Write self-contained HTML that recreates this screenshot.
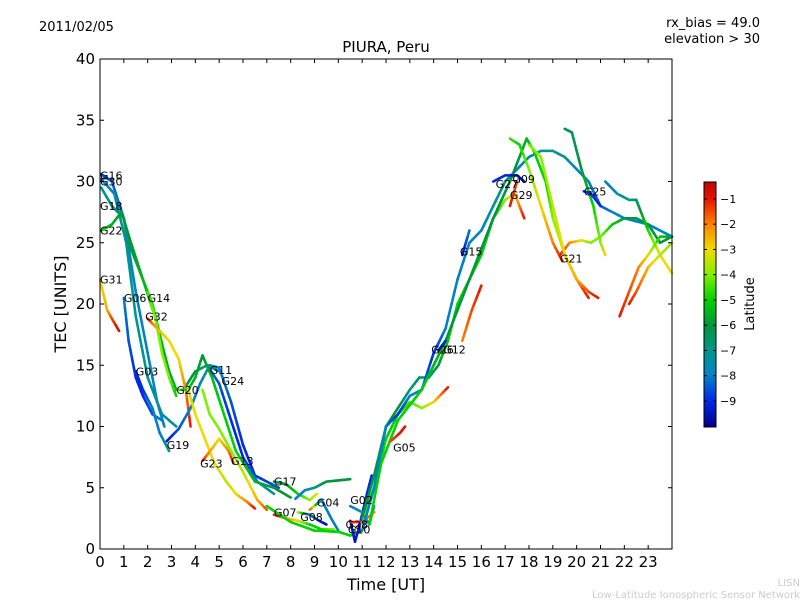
<!DOCTYPE html>
<html><head><meta charset="utf-8"><style>
body{margin:0;background:#fff;}
svg{display:block;font-family:"DejaVu Sans","Liberation Sans",sans-serif;}
</style></head><body>
<svg id="chart" width="800" height="600" viewBox="0 0 800 600">
<rect width="800" height="600" fill="#fff"/>
<text x="39" y="31" font-size="13">2011/02/05</text>
<text x="760" y="27" font-size="13" text-anchor="end">rx_bias = 49.0</text>
<text x="760" y="43" font-size="13" text-anchor="end">elevation &gt; 30</text>
<text x="386" y="52" font-size="15" text-anchor="middle">PIURA, Peru</text>
<g id="plot"></g>
<g id="marks"></g>
<g id="labels"></g>
<rect x="100" y="59" width="572" height="490" fill="none" stroke="#000" stroke-width="1"/>
<g id="axes"></g>
<text x="386" y="590" font-size="16" text-anchor="middle">Time [UT]</text>
<text transform="translate(66,304) rotate(-90)" font-size="16" text-anchor="middle">TEC [UNITS]</text>
<g id="cbar"></g>
<text transform="translate(754,304) rotate(-90)" font-size="13" text-anchor="middle">Latitude</text>
<text x="800" y="586" font-size="10" fill="#ccc" text-anchor="end">LISN</text>
<text x="800" y="598" font-size="10" fill="#ccc" text-anchor="end">Low-Latitude Ionospheric Sensor Network</text>
</svg>
<script>
const xTicks=[0,1,2,3,4,5,6,7,8,9,10,11,12,13,14,15,16,17,18,19,20,21,22,23];
const yTicks=[0,5,10,15,20,25,30,35,40];
const cbTicks=[-1,-2,-3,-4,-5,-6,-7,-8,-9];
// tracks: [time, tec, latitude]
const tracks=[
[[0.05,30.6,-8.8],[0.5,30,-8.5],[1,27,-8],[1.5,21,-8],[2,16,-8],[2.4,12,-8],[2.7,10,-8]],
[[0.05,30.2,-8],[0.6,29,-7.5],[1.1,25,-7],[1.5,19,-7],[2,14,-7],[2.6,11,-7.5],[3.2,10,-7]],
[[0.05,29.5,-7],[0.5,28,-7],[1,27,-6.5],[1.3,24.5,-6],[1.8,22,-5.5],[2.2,20,-5],[2.7,16,-5],[3.1,13,-5.5],[3.5,13,-6],[4,14.5,-6],[4.5,15,-7],[5,14.5,-8]],
[[0.05,26,-5],[0.5,26.5,-5.5],[0.9,27.5,-6],[1.3,25,-6],[1.8,22,-5.5],[2.3,19,-5],[2.8,15,-6],[3.2,13,-5.5]],
[[0,22,-3],[0.3,19.5,-2.5],[0.5,18.8,-1.5],[0.8,17.8,-0.8]],
[[1,20.5,-8],[1.2,17,-8.5],[1.5,14,-9],[1.8,12.5,-9],[2.2,11,-8.5],[2.6,10.5,-8]],
[[2,21,-4.5],[2.3,19,-4],[2.6,16,-4],[2.9,14,-4],[3.2,12.5,-5]],
[[2,18.8,-1],[2.4,18,-2.5],[2.9,17,-3],[3.3,15.5,-3],[3.6,13,-2],[3.8,10,-1]],
[[1.5,14.5,-9],[1.8,13,-9],[2.2,11.5,-8],[2.5,9.5,-8],[2.9,8,-7]],
[[2.8,8.8,-9.5],[3.3,9.8,-8.5],[3.8,11.5,-8],[4.2,13.5,-7.5],[4.6,15,-7],[5,14.8,-8],[5.5,12,-8.5],[6,8.5,-9],[6.5,6,-9],[7.5,5,-8.5]],
[[4.5,15,-8],[5,13.5,-8.5],[5.5,10.5,-9],[6,7.5,-9],[6.6,5.5,-8],[7.3,4.5,-7]],
[[3.3,13,-4.5],[3.7,13,-5],[4,14,-5.5],[4.3,15.8,-6],[4.7,14,-5.5],[5.2,11,-5],[5.7,8,-5],[6.5,5.5,-5.5],[7.3,5,-6],[8,4.2,-6]],
[[3.7,13,-3.5],[4,11,-3],[4.4,9,-3],[4.8,7,-3],[5.3,5.5,-3.5],[5.7,4.5,-3],[6.2,3.8,-2],[6.5,3.3,-1]],
[[4.3,7.2,-1],[4.7,8.2,-2.5],[5,9,-3],[5.4,8,-2],[5.6,7,-1]],
[[4.3,13,-4],[4.6,11,-4],[5,9.8,-4],[5.5,8,-4],[6,6.3,-3.5],[6.6,4,-2.5],[7,3.2,-1.5]],
[[7.3,5.5,-6.5],[7.8,5.3,-6],[8.3,4.5,-5],[8.8,4,-4],[9.1,4.5,-3]],
[[8.2,4.1,-8],[8.6,4.8,-8],[9,5,-7],[9.5,5.5,-6],[10,5.6,-6],[10.5,5.7,-6]],
[[7.3,2.8,-1],[7.8,2.5,-2],[8.3,2.3,-3],[8.8,2.0,-5],[9.3,1.6,-5],[9.8,1.6,-4]],
[[8.3,3,-3],[8.8,2.8,-8],[9.2,2.3,-9],[9.5,2,-9.5]],
[[8.8,3.2,-1],[9.3,4,-8],[9.7,2.5,-8],[10,1.5,-8]],
[[7,3.5,-5],[8,2.2,-5],[9,1.5,-5],[10,1.4,-5],[10.5,1.1,-5],[11,1.5,-5]],
[[10.5,2.3,-9],[10.7,0.6,-9.5],[10.9,2,-9],[11.2,4.5,-9],[11.4,6,-9]],
[[10.5,3.5,-8],[11,3,-7],[11.3,2,-7],[11.5,3.5,-7]],
[[10.5,2.2,-1],[11,2.2,-1.5],[11.5,3,-2]],
[[11,2.5,-4],[11.5,5,-4.5],[12,9,-5],[12.5,11,-5],[13,12,-4.5],[13.5,11.5,-4],[14,12,-3],[14.3,12.6,-2],[14.6,13.2,-1]],
[[11,2.5,-6],[11.5,6,-6],[12,10,-6],[12.5,11.5,-6],[13,13,-7],[13.4,14,-6.5],[13.8,14,-7],[14.2,15,-6],[14.6,17,-5],[15,20,-5],[15.5,22,-5],[16,24,-5],[16.5,27,-5],[17,28.5,-4],[17.4,29,-3],[17.6,28,-2],[17.8,27,-1]],
[[11,1.5,-8],[11.5,5,-8],[12,10,-8],[12.5,11,-9],[13,12.5,-8],[13.5,13,-8],[14,16,-9],[14.5,18,-8],[15,22,-8],[15.5,25,-8],[16,26,-8],[16.5,28,-7],[17,30,-7],[17.5,31,-8],[18,32,-8],[18.5,32.5,-7],[19,32.5,-7],[19.5,32,-7],[20,31,-8],[20.5,30,-8],[21,28,-8.5],[21.5,27.5,-8],[22,27,-8],[23,26.5,-8],[24,25.5,-8]],
[[11.3,2,-5],[11.8,7,-5],[12.5,10.5,-5],[13.5,13,-5],[14.5,17,-6],[15.5,22,-6],[16.5,27,-6],[17.2,30,-6],[17.5,31.5,-6],[17.9,33.5,-5.5],[18.2,32.5,-5],[18.7,30,-5],[19,27,-4],[19.5,24,-3],[20,22,-2],[20.5,20.5,-1]],
[[17.2,33.5,-4.5],[17.6,33,-5],[18,31,-4],[18.5,28,-3],[19,25,-2],[19.4,23.5,-1]],
[[19.3,24,-1],[19.7,25,-2],[20.2,25.2,-3],[20.6,25,-4],[21,25.5,-4],[21.5,26.5,-5],[22,27,-6],[22.5,27,-6],[23,26.5,-6],[23.5,25,-6],[24,25.5,-6]],
[[18,33,-4],[18.5,32,-4],[19,28,-3.5],[19.5,24,-3],[20,22,-2.5],[20.5,21,-1.5],[20.9,20.5,-1]],
[[19.5,34.3,-6],[19.8,34,-6.5],[20.2,31,-6],[20.7,28,-5],[21,25,-4],[21.2,24,-3]],
[[20.3,29.2,-9],[20.6,29,-9],[21,28,-9]],
[[21.2,30,-8],[21.7,29,-7.5],[22.2,28.5,-7],[22.5,28.5,-6.5],[23,26,-5],[23.5,24,-3],[24,22.5,-3]],
[[21.8,19,-1],[22.2,21,-1.5],[22.6,23,-2],[23,24,-3],[23.5,25.5,-5],[24,25.5,-6]],
[[22.2,20,-1],[22.5,21,-1.5],[23,23,-2.5],[23.5,24,-3.5],[24,25,-4]],
[[16.5,30,-9],[17,30.5,-9],[17.5,30.5,-9.5],[17.8,30,-9.5]],
[[14.2,16.2,-9.5],[14.5,17,-9]],
[[15.2,24,-9.5],[15.5,26,-8]],
[[15.2,17,-2],[15.6,19.5,-1.5],[16,21.5,-1]],
[[12.2,8.8,-1.5],[12.6,9.5,-1],[12.8,10,-1]],
[[17.2,28,-1],[17.5,30,-1.5]]
];
const labelNames=["G16","G30","G18","G22","G31","G06","G14","G32","G03","G19","G23","G13","G11","G24","G20","G17","G07","G08","G04","G02","G28","G10","G05","G26","G12","G15","G27","G09","G29","G21","G25"];
const labelT=[0,0,0,0,0,1,2,1.9,1.5,2.8,4.2,5.5,4.6,5.1,3.2,7.3,7.3,8.4,9.1,10.5,10.3,10.4,12.3,13.9,14.4,15.1,16.6,17.3,17.2,19.3,20.3];
const labelV=[30.5,30,28,26,22,20.5,20.5,19,14.5,8.5,7,7.2,14.6,13.7,13,5.5,3,2.6,3.8,4,2,1.6,8.3,16.3,16.3,24.3,29.8,30.2,28.9,23.7,29.2];
const NS="http://www.w3.org/2000/svg";
const X0=100,X1=672,Y0=549,Y1=59;
function xs(t){return X0+t*(X1-X0)/24;}
function ys(v){return Y0-v*(Y0-Y1)/40;}
const cmap=[[-10,0,0,140],[-9,0,40,230],[-8,0,130,200],[-7,0,150,140],[-6,0,150,60],[-5,0,210,0],[-4,130,240,0],[-3,240,220,0],[-2,255,130,0],[-1,230,20,0],[0,170,0,0]];
function jet(lat){
 if(lat<=-10)lat=-10; if(lat>=0)lat=0;
 for(let i=0;i<cmap.length-1;i++){const a=cmap[i],b=cmap[i+1];
  if(lat>=a[0]&&lat<=b[0]){const f=(lat-a[0])/(b[0]-a[0]);
   return `rgb(${Math.round(a[1]+(b[1]-a[1])*f)},${Math.round(a[2]+(b[2]-a[2])*f)},${Math.round(a[3]+(b[3]-a[3])*f)})`;}}
 return '#000';}
function mk(tag,attrs,parent){const e=document.createElementNS(NS,tag);for(const k in attrs)e.setAttribute(k,attrs[k]);parent.appendChild(e);return e;}
const marks=document.getElementById('marks');
tracks.forEach((tr,i)=>{
 const g=mk('g',{},marks);
 
 
 for(let j=0;j<tr.length-1;j++){
  const a=tr[j],b=tr[j+1];
  const n=4;
  for(let k=0;k<n;k++){
   const f0=k/n,f1=(k+1)/n;
   const l=mk('line',{x1:xs(a[0]+(b[0]-a[0])*f0),y1:ys(a[1]+(b[1]-a[1])*f0),x2:xs(a[0]+(b[0]-a[0])*f1),y2:ys(a[1]+(b[1]-a[1])*f1),stroke:jet(a[2]+(b[2]-a[2])*(f0+f1)/2),'stroke-width':2.6,'stroke-linecap':'round'},g);
   
   
  }
 }
});
const labels=document.getElementById('labels');
labelNames.forEach((n,i)=>{
 const t=mk('text',{x:xs(labelT[i]),y:ys(labelV[i])+4,'font-size':11},labels);
 t.textContent=n;
 
 
});
const axes=document.getElementById('axes');
xTicks.forEach(v=>{
 const x=xs(v);
 const tk=mk('line',{x1:x,y1:Y0,x2:x,y2:Y0-4,stroke:'#000'},axes);
 
 
 mk('line',{x1:x,y1:Y1,x2:x,y2:Y1+4,stroke:'#000'},axes);
 const t=mk('text',{x:x,y:Y0+18,'font-size':15,'text-anchor':'middle'},axes);
 t.textContent=v;
 
 
});
yTicks.forEach(v=>{
 const y=ys(v);
 const tk=mk('line',{x1:X0,y1:y,x2:X0+4,y2:y,stroke:'#000'},axes);
 
 
 mk('line',{x1:X1,y1:y,x2:X1-4,y2:y,stroke:'#000'},axes);
 const t=mk('text',{x:X0-5,y:y+5,'font-size':15,'text-anchor':'end'},axes);
 t.textContent=v;
 
 
});
const cb=document.getElementById('cbar');
const CT=182,CB=427,CX=704,CW=12;
const LTOP=-0.33,LBOT=-10.03;
function cy(lat){return CB-(lat-LBOT)*(CB-CT)/(LTOP-LBOT);}
for(let y=CT;y<CB;y++){
 const lat=LBOT+(CB-y-0.5)*(LTOP-LBOT)/(CB-CT);
 mk('rect',{x:CX,y:y,width:CW,height:1.2,fill:jet(lat)},cb);
}
mk('rect',{x:CX,y:CT,width:CW,height:CB-CT,fill:'none',stroke:'#000'},cb);
cbTicks.forEach(v=>{
 const y=cy(v);
 mk('line',{x1:CX,y1:y,x2:CX+3,y2:y,stroke:'#000'},cb);
 mk('line',{x1:CX+CW,y1:y,x2:CX+CW-3,y2:y,stroke:'#000'},cb);
 const t=mk('text',{x:CX+CW+4,y:y+4,'font-size':11},cb);
 t.textContent='\u2212'+Math.abs(v);
 
 
});
</script>
</body></html>
